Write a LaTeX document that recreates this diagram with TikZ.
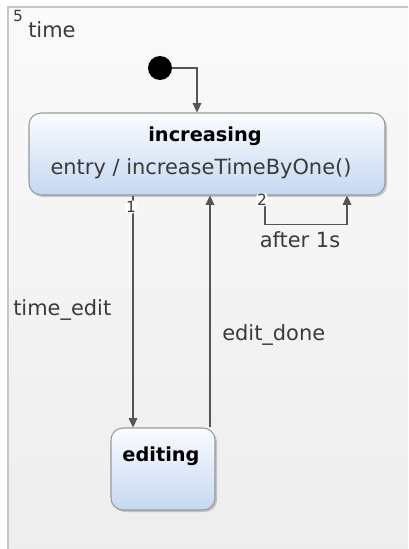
\documentclass[tikz,border=0pt]{standalone}
\usepackage{fontspec}
\setmainfont{DejaVu Sans}
\usetikzlibrary{positioning,shadows,arrows.meta}
\definecolor{stateTop}{HTML}{FAFCFF}
\definecolor{stateBot}{HTML}{C5D8F1}
\definecolor{lineGray}{HTML}{555555}
\definecolor{txtGray}{HTML}{3A3A3A}

\begin{document}
\begin{tikzpicture}[x=0.75pt,y=-0.75pt,
  state/.style={draw=gray!80,line width=.8pt,rounded corners=9pt,top color=stateTop,bottom color=stateBot,
    drop shadow={shadow xshift=1.5pt,shadow yshift=-1.5pt,opacity=.4},minimum height=61.5pt,inner sep=0pt},
  trans/.style={draw=lineGray,line width=.9pt,-{Triangle[length=7pt,width=6.5pt]}},
  lbl/.style={text=txtGray,font=\fontsize{15.7}{18}\selectfont,anchor=base,inner sep=0pt},
  title/.style={lbl,text=black,font=\bfseries\fontsize{14.5}{17}\selectfont},
  prio/.style={text=txtGray,font=\fontsize{11.5}{13}\selectfont,fill=white,inner sep=.5pt,rounded corners=2pt}]
\useasboundingbox (0,0) rectangle (408,549);
\clip (0,0) rectangle (408,549);
% region
\shade[top color=white!98!black,bottom color=white!93!black] (8,7) rectangle (420,560);
\draw[gray!45,line width=1.2pt] (8,560) -- (8,7) -- (420,7);
\node[prio,fill=none,anchor=base] (regprio) at (18,22) {5};
\node[lbl,anchor=base west] (regname) at (28,38) {time};

% states
\node[circle,fill=black,inner sep=0pt,minimum size=18pt] (init) at (160,68) {};
\node[state,minimum width=267pt] (inc) at (207,154) {};
\node[title] (incname) at (205,142) {increasing};
\node[lbl] (incentry) at (201,175) {entry / increaseTimeByOne()};
\node[state,minimum width=78pt] (edit) at (163,469) {};
\node[title] (editname) at (161,461) {editing};

% transitions
\coordinate (t1) at (133,0);
\coordinate (t2) at (210,0);
\coordinate (t3) at (265,0);
\coordinate (t4) at (347,0);
\draw[trans] (init) -| ([xshift=-7.5pt]inc.north);
\draw[trans] (t1 |- inc.south) -- (t1 |- edit.north);
\draw[trans] (t2 |- edit.north) -- (t2 |- inc.south);
\draw[trans] (t3 |- inc.south) -- ++(0,29) -| (t4 |- inc.south);
\node[prio] (p1) at (131,207) {1};
\node[prio] (p2) at (262,200) {2};
\node[lbl] (after) at (300,247) {after 1s};
\node[lbl,anchor=base west] (tedit) at (13,315) {time\_edit};
\node[lbl,anchor=base west] (edone) at (222,340) {edit\_done};
\end{tikzpicture}
\end{document}
